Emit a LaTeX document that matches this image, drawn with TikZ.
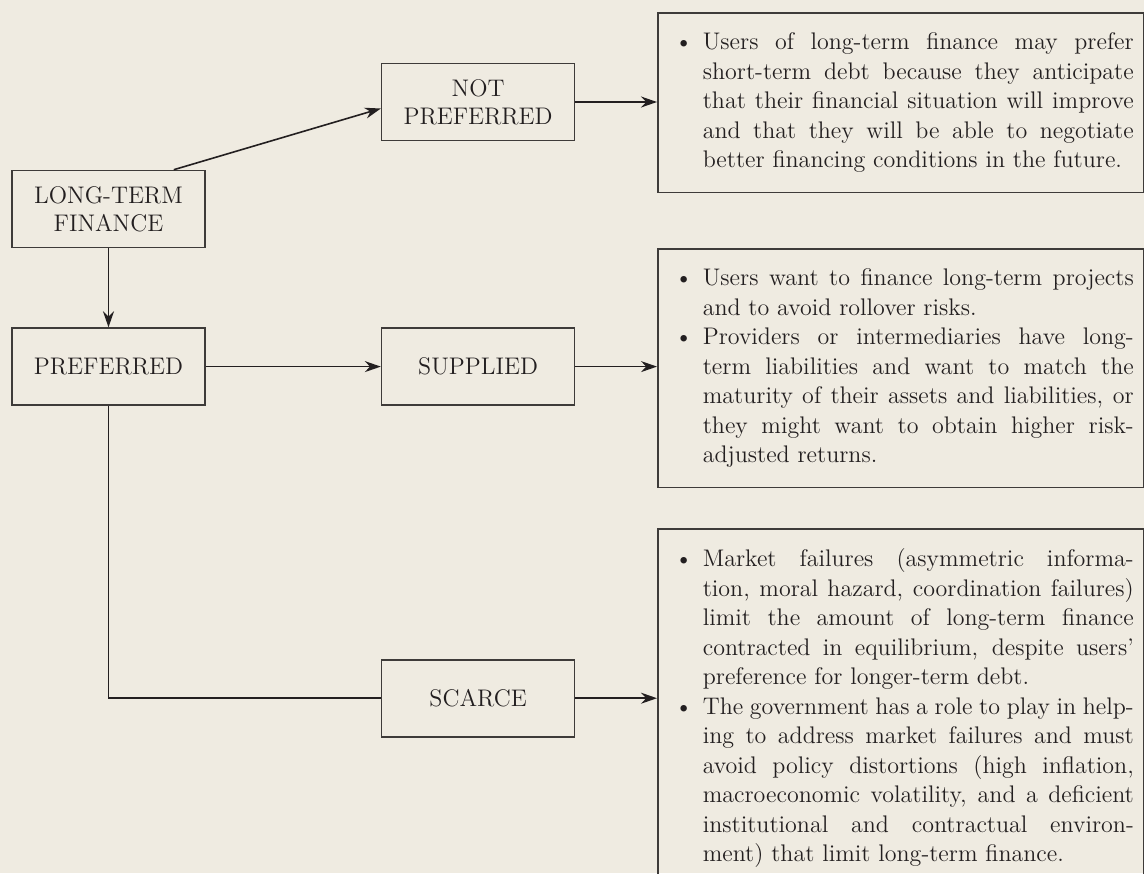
\documentclass[tikz,border=0pt]{standalone}
\usepackage{tikz}
\usetikzlibrary{positioning,arrows.meta}
\definecolor{paper}{RGB}{239,235,225}
\definecolor{ink}{RGB}{35,31,32}
\definecolor{rule}{RGB}{62,59,57}
% bullet list used in the explanation boxes
\newenvironment{dotlist}{\begin{minipage}{250pt}\tolerance=9999\hbadness=10000
  \begin{list}{\hbox to 6pt{\hss\textbullet}}{%
  \setlength\leftmargin{17.5pt}\setlength\rightmargin{17pt}%
  \setlength\labelwidth{6pt}\setlength\labelsep{5pt}%
  \setlength\topsep{0pt}\setlength\partopsep{0pt}%
  \setlength\itemsep{0pt}\setlength\parsep{0pt}}}{\end{list}\end{minipage}}

\begin{document}
\begin{tikzpicture}[>={Stealth[length=8pt,width=5.5pt]},node distance=39.5pt and 87.5pt,
   every node/.style={font=\fontsize{12}{14}\selectfont,text=ink},
   box/.style={draw=rule,line width=.8pt,minimum width=96.5pt,minimum height=38.5pt,
     align=center,inner sep=2pt},
   note/.style={draw=rule,line width=.8pt,anchor=north west,
     inner xsep=5pt,inner ysep=10pt,font=\fontsize{12}{14.75}\selectfont},
   link/.style={draw=ink,line width=.8pt}]
  \fill[paper] (0,0) rectangle (572pt,-436.5pt);
  \useasboundingbox (0,0) rectangle (572pt,-436.5pt);
  % flow boxes
  \node[box] (ltf) at (54.25pt,-104.5pt) {LONG-TERM\\FINANCE};
  \node[box] (pref) [below=of ltf] {PREFERRED};
  \node[box] (supp) [right=of pref] {SUPPLIED};
  \node[box] (notpref) [above=93pt of supp] {NOT\\PREFERRED};
  \node[box] (scarce) [below=126.5pt of supp] {SCARCE};
  % explanations
  \node[note] (whynot) at (328.5pt,-6pt) {\begin{dotlist}
    \item Users of long-term finance may prefer\linebreak short-term debt because they anticipate\linebreak that their financial situation will improve\linebreak and that they will be able to negotiate\linebreak better financing conditions in the future.
  \end{dotlist}};
  \node[note] (whysup) at (328.5pt,-124pt) {\begin{dotlist}
    \item Users want to finance long-term projects\linebreak and to avoid rollover risks.
    \item Providers or intermediaries have long-\linebreak term liabilities and want to match the\linebreak maturity of their assets and liabilities, or\linebreak they might want to obtain higher risk-\linebreak adjusted returns.
  \end{dotlist}};
  \node[note] (whyscarce) at (328.5pt,-264pt) {\begin{dotlist}
    \item Market failures (asymmetric informa-\linebreak tion, moral hazard, coordination failures)\linebreak limit the amount of long-term finance\linebreak contracted in equilibrium, despite users'\linebreak preference for longer-term debt.
    \item The government has a role to play in help-\linebreak ing to address market failures and must\linebreak avoid policy distortions (high inflation,\linebreak macroeconomic volatility, and a deficient\linebreak institutional and contractual environ-\linebreak ment) that limit long-term finance.
  \end{dotlist}};
  % connectors
  \draw[link,->] ([xshift=-16pt]ltf.north east) -- ([yshift=-3.25pt]notpref.west);
  \draw[link,->] (ltf) -- (pref);
  \draw[link,->] (pref) -- (supp);
  \draw[link] (pref.south) |- (scarce);
  \draw[link,->] (notpref) -- (notpref -| whynot.west);
  \draw[link,->] (supp) -- (supp -| whysup.west);
  \draw[link,->] (scarce) -- (scarce -| whyscarce.west);
\end{tikzpicture}
\end{document}
